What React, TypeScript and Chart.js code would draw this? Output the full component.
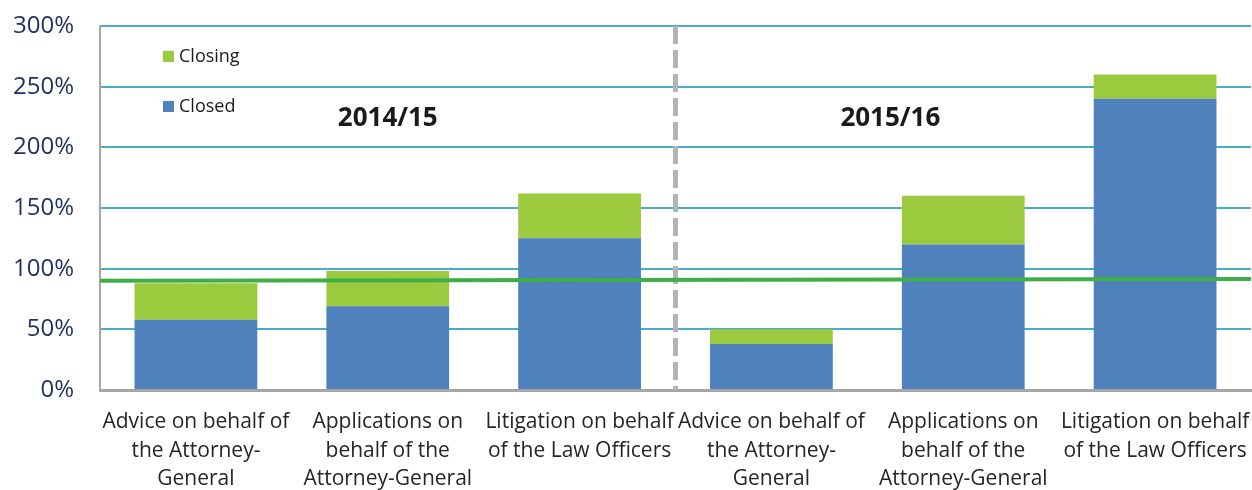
import React, { useEffect, useRef } from "react";
import { Chart, registerables } from "chart.js";

Chart.register(...registerables);

const categories: string[][] = [
  ["Advice on behalf of", "the Attorney-", "General"],
  ["Applications on", "behalf of the", "Attorney-General"],
  ["Litigation on behalf", "of the Law Officers"],
  ["Advice on behalf of", "the Attorney-", "General"],
  ["Applications on", "behalf of the", "Attorney-General"],
  ["Litigation on behalf", "of the Law Officers"],
];
const closedValues = [58, 69, 125, 38, 120, 240];
const closingValues = [30, 29, 37, 12, 40, 20];
const targetLine = [90, 91.5];
const yearLabels = ["2014/15", "2015/16"];
const yearLabelAt = [1, 3.62];
const yTicks = [0, 50, 100, 150, 200, 250, 300];
const seriesNames = ["Closed", "Closing"];

const BLUE = "#4f81bd";
const GREEN = "#9bca3e";
const FONT = "'Open Sans', sans-serif";

const overlayPlugin = {
  id: "overlay",
  afterDatasetsDraw(chart: any) {
    const { ctx, chartArea, scales } = chart;
    const x = scales.x;
    const y = scales.y;
    ctx.save();
    // dashed separator between the two years
    const sepX = (x.getPixelForValue(2) + x.getPixelForValue(3)) / 2;
    ctx.strokeStyle = "#b4b4b4";
    ctx.lineWidth = 5;
    ctx.setLineDash([18, 6]);
    ctx.beginPath();
    ctx.moveTo(sepX, chartArea.top);
    ctx.lineTo(sepX, chartArea.bottom);
    ctx.stroke();
    ctx.setLineDash([]);
    // target line
    ctx.strokeStyle = "#3fae49";
    ctx.lineWidth = 4;
    ctx.beginPath();
    ctx.moveTo(chartArea.left, y.getPixelForValue(targetLine[0]));
    ctx.lineTo(chartArea.right, y.getPixelForValue(targetLine[1]));
    ctx.stroke();
    // year labels
    ctx.fillStyle = "#1a1a1a";
    ctx.font = `bold 26px ${FONT}`;
    ctx.textAlign = "center";
    ctx.textBaseline = "middle";
    yearLabels.forEach((t, i) => {
      ctx.fillText(t, x.getPixelForValue(yearLabelAt[i]), chartArea.top + 93);
    });
    // legend
    const lx = chartArea.left + 63;
    const items = [
      { name: seriesNames[1], color: GREEN, cy: chartArea.top + 30 },
      { name: seriesNames[0], color: BLUE, cy: chartArea.top + 80 },
    ];
    ctx.font = `18px ${FONT}`;
    ctx.textAlign = "left";
    items.forEach((it) => {
      ctx.fillStyle = it.color;
      ctx.fillRect(lx, it.cy - 5, 11, 11);
      ctx.fillStyle = "#1a1a1a";
      ctx.fillText(it.name, lx + 16, it.cy + 1);
    });
    ctx.restore();
  },
};

export default function App() {
  const ref = useRef<HTMLCanvasElement>(null);
  useEffect(() => {
    if (!ref.current) return;
    const chart = new Chart(ref.current, {
      type: "bar",
      data: {
        labels: categories as any,
        datasets: [
          {
            label: seriesNames[0],
            data: closedValues,
            backgroundColor: BLUE,
            categoryPercentage: 1,
            barPercentage: 0.64,
          },
          {
            label: seriesNames[1],
            data: closingValues,
            backgroundColor: GREEN,
            categoryPercentage: 1,
            barPercentage: 0.64,
          },
        ],
      },
      options: {
        responsive: false,
        animation: false,
        layout: { padding: { top: 26, right: 1, left: 0, bottom: 0 } },
        plugins: { legend: { display: false }, tooltip: { enabled: false } },
        scales: {
          x: {
            stacked: true,
            grid: { display: false, drawTicks: false },
            border: { display: true, color: "#a6a6a6", width: 3 },
            ticks: {
              color: "#262626",
              font: { family: FONT, size: 21, lineHeight: 1.36 },
              padding: 18,
              maxRotation: 0,
              autoSkip: false,
            },
            afterFit: (s: any) => {
              s.height = 100;
              s.paddingLeft = 0;
              s.paddingRight = 0;
            },
          },
          y: {
            stacked: true,
            min: 0,
            max: 300,
            afterBuildTicks: (s: any) => {
              s.ticks = yTicks.map((v) => ({ value: v }));
            },
            grid: {
              drawTicks: false,
              color: (c: any) => (c.tick && c.tick.value === 0 ? "rgba(0,0,0,0)" : "#4bacc6"),
              lineWidth: 2,
            },
            border: { display: true, color: "#a6a6a6", width: 2 },
            ticks: {
              color: "#1f2f5f",
              font: { family: FONT, size: 24 },
              padding: 26,
              callback: (v: any) => `${v}%`,
            },
            afterFit: (s: any) => {
              s.width = 100;
              s.paddingTop = 0;
              s.paddingBottom = 0;
            },
          },
        },
      },
      plugins: [overlayPlugin],
    });
    return () => chart.destroy();
  }, []);
  return (
    <div style={{ position: "absolute", left: 0, top: 0, width: 1252, height: 490, background: "#fff" }}>
      <canvas ref={ref} width={1252} height={490} style={{ display: "block" }} />
    </div>
  );
}
